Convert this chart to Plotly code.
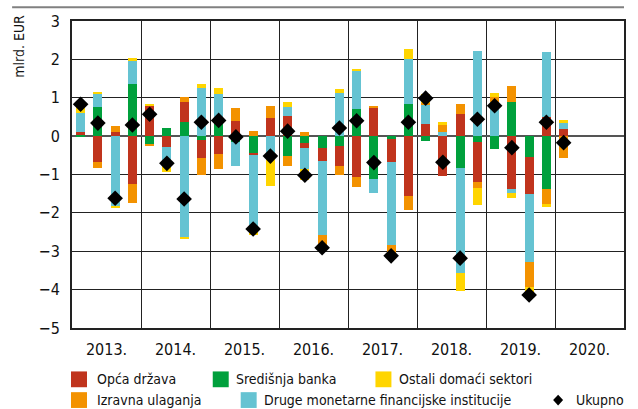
import plotly.graph_objects as go

# Quarterly data, 2013 Q1 – 2020 Q1 (billions of EUR)
quarters = [f"{y} Q{q}" for y in range(2013, 2020) for q in range(1, 5)] + ["2020 Q1"]

sredisnja_banka = [0.05, 0.77, 0.00, 1.35, -0.22, 0.22, 0.36, -0.09,
                   0.40, -0.15, -0.46, 0.00, -0.52, -0.17, -0.31, -0.26,
                   0.72, -1.13, -0.07, 0.83, -0.12, 0.00, -0.83, -0.14,
                   -0.33, 0.90, -0.54, -1.38, 0.00]
opca_drzava = [0.05, -0.67, 0.12, -1.26, 0.81, -0.28, 0.53, -0.49,
               -0.46, 0.40, -0.04, 0.47, 0.53, -0.15, -0.34, -0.52,
               -1.06, 0.75, -0.60, -1.55, 0.32, -1.04, 0.58, -1.05,
               0.00, -1.38, -0.96, 0.51, 0.19]
druge_mfi = [0.50, 0.34, -1.83, 0.63, 0.00, -0.47, -2.65, 1.25,
             0.69, -0.62, -1.92, -0.54, 0.22, -0.54, -1.93, 1.12,
             1.00, -0.34, -2.17, 1.19, 0.49, 0.10, -2.73, 2.23,
             0.90, -0.09, -1.79, 1.68, 0.15]
izravna_ulaganja = [0.00, -0.15, 0.15, -0.47, -0.04, 0.00, 0.13, -0.43,
                    -0.39, 0.34, 0.13, 0.32, -0.26, 0.12, -0.33, -0.22,
                    -0.27, 0.04, -0.28, -0.38, 0.06, 0.19, 0.26, -0.17,
                    0.13, 0.41, -0.63, -0.40, -0.58]
ostali_sektori = [0.22, 0.03, -0.05, 0.05, 0.03, -0.18, -0.03, 0.12,
                  0.17, 0.00, -0.15, -0.77, 0.15, -0.28, 0.00, 0.10,
                  0.02, 0.00, 0.00, 0.26, 0.24, 0.07, -0.47, -0.43,
                  0.10, -0.15, -0.19, -0.06, 0.07]
ukupno = [0.83, 0.34, -1.62, 0.29, 0.57, -0.71, -1.64, 0.36,
          0.41, -0.02, -2.42, -0.52, 0.13, -1.02, -2.91, 0.21,
          0.40, -0.69, -3.12, 0.36, 0.99, -0.68, -3.18, 0.44,
          0.79, -0.30, -4.14, 0.36, -0.17]

years = ["2013.", "2014.", "2015.", "2016.", "2017.", "2018.", "2019.", "2020."]
y_ticks = [-5, -4, -3, -2, -1, 0, 1, 2, 3]

C_RED = "#C0341D"
C_GREEN = "#00A03C"
C_YELLOW = "#FFD500"
C_ORANGE = "#F39200"
C_BLUE = "#65C3D2"

FONT = "DejaVu Sans Condensed, Liberation Sans Narrow, sans-serif"

x = list(range(len(quarters)))

fig = go.Figure()
# stacking order (closest to zero first)
for name, vals, col in [
    ("Središnja banka", sredisnja_banka, C_GREEN),
    ("Opća država", opca_drzava, C_RED),
    ("Druge monetarne financijske institucije", druge_mfi, C_BLUE),
    ("Izravna ulaganja", izravna_ulaganja, C_ORANGE),
    ("Ostali domaći sektori", ostali_sektori, C_YELLOW),
]:
    fig.add_trace(go.Bar(x=x, y=vals, name=name, marker_color=col,
                         marker_line_width=0, width=0.52, showlegend=False,
                         hovertext=quarters))

fig.add_trace(go.Scatter(x=x, y=ukupno, name="Ukupno", mode="markers",
                         marker=dict(symbol="diamond", size=12, color="black"),
                         showlegend=False, hovertext=quarters))

# pixel geometry of the plotting area
W, H = 638, 409
L, R, T, B = 72, 625, 17, 328


def px(xp):
    return (xp - L) / (R - L)


def py(yp):
    return (B - yp) / (B - T)


shapes = []
annotations = []

# thin rule across the top
shapes.append(dict(type="line", xref="paper", yref="paper",
                   x0=px(12), x1=px(625), y0=py(3), y1=py(3),
                   line=dict(color="#808080", width=2)))

# custom legend
legend_items = [
    (71, 380, "square", C_RED, "Opća država", 95),
    (213, 380, "square", C_GREEN, "Središnja banka", 234),
    (376, 380, "square", C_YELLOW, "Ostali domaći sektori", 398),
    (71, 401, "square", C_ORANGE, "Izravna ulaganja", 95),
    (241, 401, "square", C_BLUE, "Druge monetarne financijske institucije", 262),
    (554, 401, "diamond", "black", "Ukupno", 575),
]
for x0, yc, kind, col, label, tx in legend_items:
    if kind == "square":
        shapes.append(dict(type="rect", xref="paper", yref="paper",
                           x0=px(x0), x1=px(x0 + 16), y0=py(yc + 8), y1=py(yc - 8),
                           fillcolor=col, line=dict(width=0)))
    else:
        cx = x0 + 5
        path = (f"M {px(cx - 5)} {py(yc)} L {px(cx)} {py(yc - 5.5)} "
                f"L {px(cx + 5)} {py(yc)} L {px(cx)} {py(yc + 5.5)} Z")
        shapes.append(dict(type="path", xref="paper", yref="paper", path=path,
                           fillcolor=col, line=dict(width=0)))
    annotations.append(dict(x=px(tx), y=py(yc), xref="paper", yref="paper",
                            text=label, showarrow=False, xanchor="left",
                            yanchor="middle",
                            font=dict(family=FONT, size=14, color="#111")))

# axis title at the top of the y axis
annotations.append(dict(x=px(19), y=py(43), xref="paper", yref="paper",
                        text="mlrd. EUR", textangle=-90, showarrow=False,
                        xanchor="center", yanchor="middle",
                        font=dict(family=FONT, size=14, color="#111")))

fig.update_layout(
    width=W, height=H,
    margin=dict(l=L, r=W - R, t=T, b=H - B),
    barmode="relative",
    bargap=0,
    plot_bgcolor="white",
    paper_bgcolor="white",
    font=dict(family=FONT, size=16, color="#111"),
    shapes=shapes,
    annotations=annotations,
)

fig.update_xaxes(
    range=[-0.5, 31.5],
    tickvals=[1.5 + 4 * i for i in range(len(years))],
    ticktext=years,
    ticks="",
    showgrid=False,
    minor=dict(tick0=-0.5, dtick=4, showgrid=True, gridcolor="#222",
               gridwidth=1, ticks=""),
    showline=True, linecolor="#222", linewidth=2, mirror=True,
    zeroline=False,
    tickfont=dict(size=16),
    ticklabelstandoff=6,
)
fig.update_yaxes(
    range=[-5, 3],
    tickvals=y_ticks,
    ticks="",
    showgrid=True, gridcolor="#222", gridwidth=1,
    zeroline=True, zerolinecolor="#555", zerolinewidth=2,
    showline=True, linecolor="#222", linewidth=2, mirror=True,
    tickfont=dict(size=16),
    ticklabelstandoff=7,
)

fig.write_html("out.html")
